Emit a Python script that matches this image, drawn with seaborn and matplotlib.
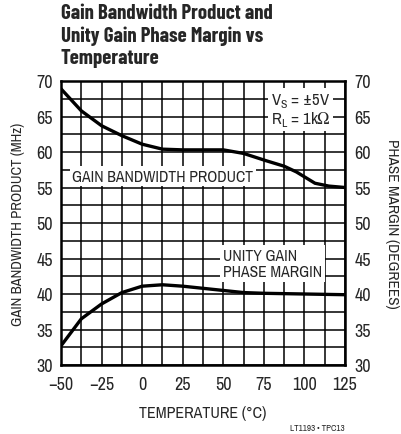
import matplotlib
matplotlib.use("Agg")
import matplotlib.pyplot as plt
import seaborn as sns
import pandas as pd
import numpy as np

# 온도 (°C) 와 측정값
temp_gbw = [-50, -37.5, -25, -12.5, 0, 12.5, 25, 37.5, 50, 62.5, 76, 87.5, 95, 106.5, 115, 125]
gbw = [68.9, 65.8, 63.7, 62.3, 61.1, 60.4, 60.3, 60.3, 60.3, 59.8, 58.8, 58.0, 57.2, 55.6, 55.2, 55.0]

temp_pm = [-50, -37.5, -25, -12.5, 0, 12.5, 25, 37.5, 50, 62.5, 75, 100, 125]
pm = [32.7, 36.5, 38.6, 40.2, 41.1, 41.3, 41.1, 40.8, 40.5, 40.2, 40.1, 40.0, 39.9]

x_ticks = [-50, -25, 0, 25, 50, 75, 100, 125]
y_ticks = [30, 35, 40, 45, 50, 55, 60, 65, 70]

df_gbw = pd.DataFrame({"temp": temp_gbw, "val": gbw})
df_pm = pd.DataFrame({"temp": temp_pm, "val": pm})

sns.set_style("white")
plt.rcParams['font.family'] = ['Archivo Narrow', 'Barlow Semi Condensed', 'Liberation Sans', 'DejaVu Sans']
plt.rcParams['mathtext.fontset'] = 'custom'
plt.rcParams['mathtext.rm'] = 'Archivo Narrow'

fig = plt.figure(figsize=(4.01, 4.35), dpi=100)
ax = fig.add_axes([61 / 401, 1 - 366 / 435, 284 / 401, 284 / 435])

sns.lineplot(data=df_gbw, x="temp", y="val", ax=ax, color="black", lw=2.4)
sns.lineplot(data=df_pm, x="temp", y="val", ax=ax, color="black", lw=2.4)

ax.set_xlim(-50, 125)
ax.set_ylim(30, 70)
ax.set_xticks(x_ticks)
ax.set_yticks(y_ticks)
ax.set_xticks(np.arange(-50, 126, 12.5), minor=True)
ax.set_yticks(np.arange(30, 71, 2.5), minor=True)
ax.grid(which="both", color="black", lw=1.1)
ax.set_axisbelow(True)
ax.tick_params(which="both", length=0, labelsize=13)
ax.tick_params(axis="y", pad=6)
ax.tick_params(axis="x", pad=8)
for s in ax.spines.values():
    s.set_color("black")
    s.set_linewidth(1.8)

ax2 = ax.twinx()
ax2.set_ylim(30, 70)
ax2.set_yticks(y_ticks)
ax2.tick_params(length=0, labelsize=13, pad=7)
for s in ax2.spines.values():
    s.set_visible(False)

ax.set_xlabel("TEMPERATURE (°C)", fontsize=11.5, labelpad=9)
ax.set_ylabel("GAIN BANDWIDTH PRODUCT (MHz)", fontsize=10.5, labelpad=8)
ax2.set_ylabel("PHASE MARGIN (DEGREES)", fontsize=11, rotation=-90, labelpad=20)

box = dict(facecolor="white", edgecolor="none", pad=2)
ax.text(-43, 56.6, "GAIN BANDWIDTH PRODUCT", fontsize=11.3, va="center", bbox=box)
ax.text(50, 44.3, "UNITY GAIN\nPHASE MARGIN", fontsize=11.3, va="center",
        linespacing=1.1, bbox=box)
ax.text(116, 66.0, "V$_\\mathregular{S}$ = ±5V\nR$_\\mathregular{L}$ = 1k$\\mathregular{\\Omega}$",
        fontsize=12, ha="right", va="center", linespacing=1.05, bbox=box)

fig.text(61 / 401, 1 - 4 / 435, "Gain Bandwidth Product and\nUnity Gain Phase Margin vs\nTemperature",
         fontsize=15, fontweight="bold", va="top", ha="left", linespacing=1.22,
         family=['Barlow Condensed', 'Archivo Narrow', 'Liberation Sans', 'DejaVu Sans'])
fig.text(345 / 401, 1 - 429 / 435, "LT1193 • TPC13", fontsize=6.5, ha="right", va="center")

fig.savefig("out.png", dpi=100)
